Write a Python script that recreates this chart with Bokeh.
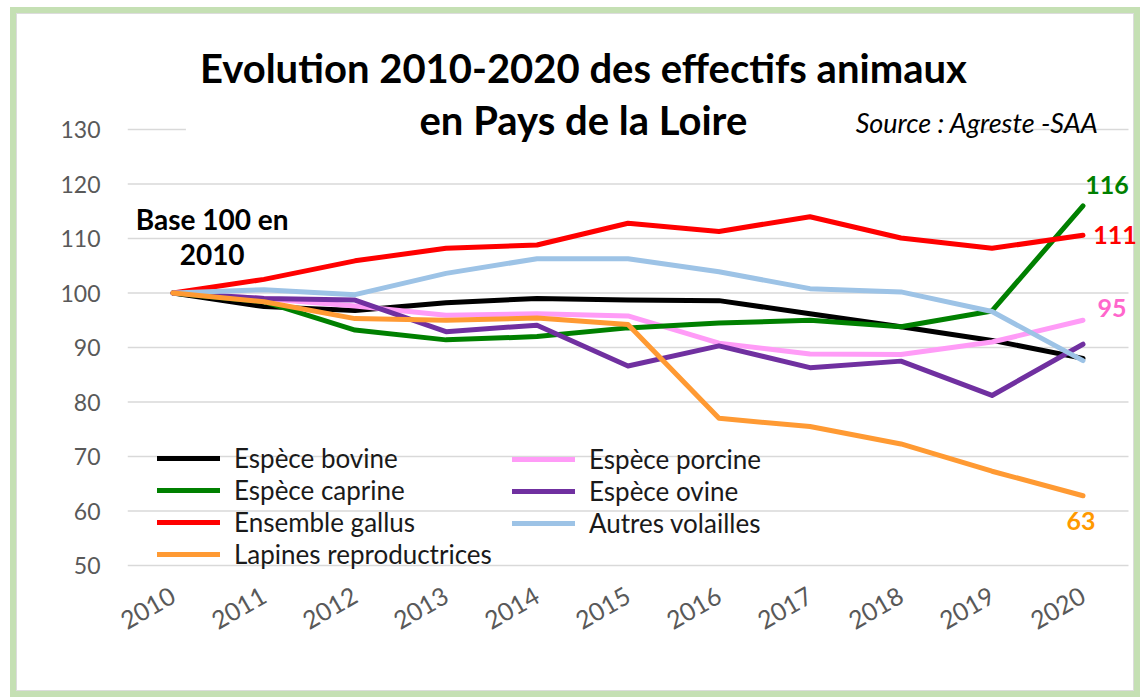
import math
from bokeh.plotting import figure
from bokeh.models import FixedTicker, Legend, LegendItem, Label, Range1d
from bokeh.embed import file_html
from bokeh.resources import INLINE

# ---- data ----
years = [2010, 2011, 2012, 2013, 2014, 2015, 2016, 2017, 2018, 2019, 2020]
y_ticks = [50, 60, 70, 80, 90, 100, 110, 120, 130]

bovine    = [100, 97.5, 96.8, 98.2, 99.0, 98.7, 98.6, 96.2, 93.8, 91.3, 88.0]
porcine   = [100, 99.0, 97.6, 95.9, 96.2, 95.8, 90.8, 88.8, 88.7, 91.0, 95.0]
caprine   = [100, 98.4, 93.2, 91.4, 92.0, 93.6, 94.5, 95.0, 93.8, 96.7, 116.0]
ovine     = [100, 99.0, 98.7, 92.9, 94.1, 86.6, 90.3, 86.3, 87.5, 81.2, 90.6]
gallus    = [100, 102.5, 105.9, 108.2, 108.8, 112.8, 111.3, 114.0, 110.1, 108.2, 110.6]
volailles = [100, 100.6, 99.7, 103.6, 106.3, 106.3, 103.9, 100.8, 100.2, 96.6, 87.6]
lapines   = [100, 98.4, 95.3, 95.0, 95.4, 94.2, 77.0, 75.5, 72.3, 67.3, 62.8]

names = ["Espèce bovine", "Espèce porcine", "Espèce caprine", "Espèce ovine",
         "Ensemble gallus", "Autres volailles", "Lapines reproductrices"]
series = [bovine, porcine, caprine, ovine, gallus, volailles, lapines]
colors = ["#000000", "#ff9cf7", "#008000", "#7030a0", "#ff0000", "#9dc3e6", "#ff9a33"]

title_text = "Evolution 2010-2020 des effectifs animaux\nen Pays de la Loire"
source_text = "Source : Agreste -SAA"
base_text = ["Base 100 en", "2010"]

FONT = "Lato"

# the frame is extended to the top/right edges so that annotations are not clipped;
# the category band (years +/- 0.5) and 50..130 are where the chart lives
x_lo, x_hi = years[0] - 0.5, years[-1] + 0.5
p = figure(width=1142, height=697, output_backend="svg", toolbar_location=None,
           x_range=Range1d(x_lo, 2020.654), y_range=Range1d(47.248, 153.67),
           min_border_left=127, min_border_right=0, min_border_top=0,
           min_border_bottom=117)
p.outline_line_color = None
p.background_fill_alpha = 0
p.border_fill_alpha = 0
p.xgrid.grid_line_color = None
p.ygrid.grid_line_color = None

# chart-area border (green frame with a thin grey inner line), painted behind the canvas
G, L = "#c5e0b4", "#dcdcdc"
bands = [  # colour, x, y, w, h
    (G, 10, 7, 1130, 6), (G, 10, 691, 1130, 6), (G, 10, 7, 6, 690), (G, 1134, 7, 6, 690),
    (L, 16, 13, 1118, 1), (L, 16, 690, 1118, 1), (L, 16, 13, 1, 678), (L, 1133, 13, 1, 678),
]
p.styles = {
    "background-image": ", ".join(f"linear-gradient({c},{c})" for c, *_ in bands),
    "background-position": ", ".join(f"{x}px {y}px" for _, x, y, w, h in bands),
    "background-size": ", ".join(f"{w}px {h}px" for _, x, y, w, h in bands),
    "background-repeat": "no-repeat",
    "background-color": "#ffffff",
}

# horizontal gridlines over the category band
p.segment(x0=[x_lo] * len(y_ticks), y0=y_ticks, x1=[x_hi] * len(y_ticks), y1=y_ticks,
          line_color="#d9d9d9", line_width=1.3)

p.yaxis.ticker = FixedTicker(ticks=y_ticks)
p.xaxis.ticker = FixedTicker(ticks=years)
for ax in (p.xaxis, p.yaxis):
    ax.axis_line_color = None
    ax.major_tick_line_color = None
    ax.minor_tick_line_color = None
    ax.major_tick_out = 0
    ax.major_label_text_font = FONT
    ax.major_label_text_color = "#595959"
p.yaxis.major_label_text_font_size = "23px"
p.xaxis.major_label_text_font_size = "25px"
p.yaxis.major_label_standoff = 27
p.xaxis.major_label_standoff = 13
p.xaxis.major_label_orientation = math.radians(30)

renderers = []
for s, c in zip(series, colors):
    r = p.line(years, s, line_color=c, line_width=5, line_cap="round", line_join="round")
    renderers.append(r)

leg_kw = dict(label_text_font=FONT, label_text_font_size="26px", label_text_color="#1a1a1a",
              glyph_width=63, glyph_height=30, label_height=30, spacing=0,
              label_standoff=14, padding=0, margin=0,
              background_fill_alpha=0, border_line_alpha=0)
leg1 = Legend(items=[LegendItem(label=names[i], renderers=[renderers[i]]) for i in (0, 2, 4, 6)],
              location=(30, 10), **leg_kw)
leg2 = Legend(items=[LegendItem(label=names[i], renderers=[renderers[i]]) for i in (1, 3, 5)],
              location=(385, 41), **leg_kw)
p.add_layout(leg1)
p.add_layout(leg2)

# title with white box (hides the top gridline like the original)
p.add_layout(Label(x=2014.51, y=136.51, text=title_text, text_align="center",
                   text_baseline="middle", text_font=FONT, text_font_style="bold",
                   text_font_size="40px", text_color="#000000", text_line_height=1.1,
                   background_fill_color="white", padding=14))
p.add_layout(Label(x=2020.17, y=131.28, text=source_text, text_align="right",
                   text_baseline="middle", text_font=FONT, text_font_style="italic",
                   text_font_size="27px", text_color="#000000"))
p.add_layout(Label(x=2010.43, y=113.67, text=base_text[0], text_align="center",
                   text_baseline="middle", text_font=FONT, text_font_style="bold",
                   text_font_size="28px", text_color="#000000"))
p.add_layout(Label(x=2010.43, y=107.06, text=base_text[1], text_align="center",
                   text_baseline="middle", text_font=FONT, text_font_style="bold",
                   text_font_size="28px", text_color="#000000"))

# end-of-line value labels
end_specs = [(caprine, "#008000", 24, 21), (gallus, "#ff0000", 32, 0),
             (porcine, "#ff66cc", 29, 12), (lapines, "#ff9900", -2, -25)]
for s, c, dx, dy in end_specs:
    p.add_layout(Label(x=years[-1], y=s[-1], text=f"{s[-1]:.0f}", x_offset=dx, y_offset=dy,
                       text_align="center", text_baseline="middle", text_font=FONT,
                       text_font_style="bold", text_font_size="25px", text_color=c))

open("out.html", "w").write(file_html(p, INLINE))
